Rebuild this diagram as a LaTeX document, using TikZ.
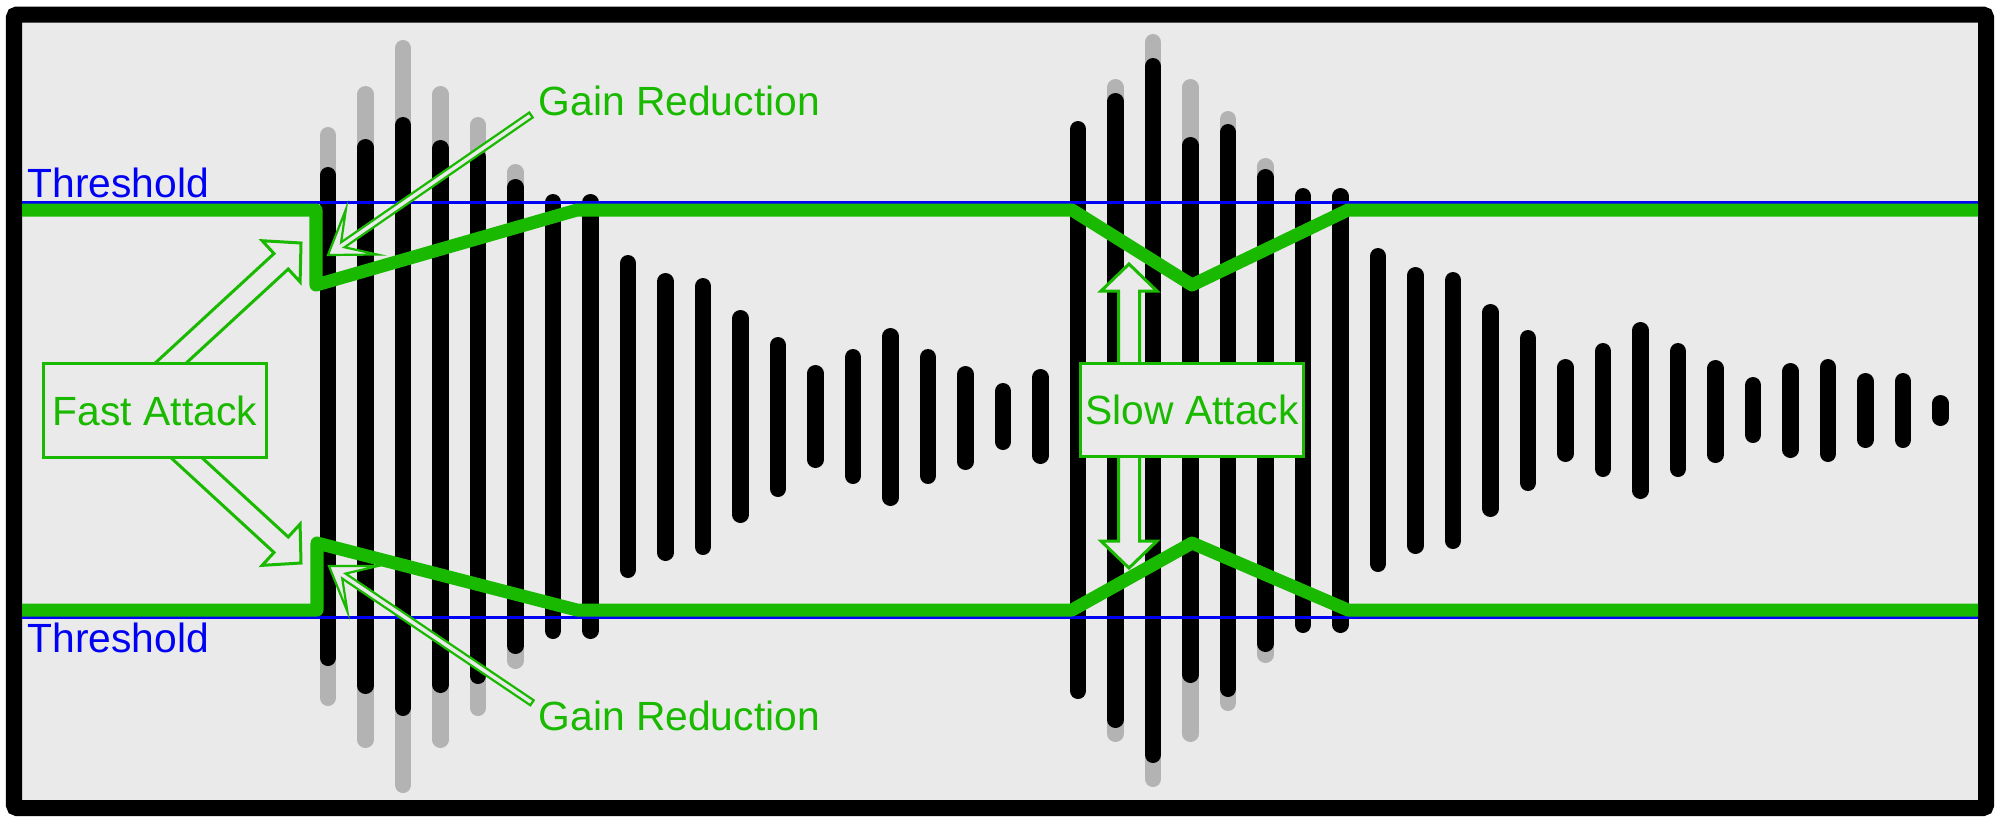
\documentclass[tikz,border=0pt]{standalone}
\usepackage{fontspec}
\setmainfont{Liberation Sans}
\usepackage{xcolor}
\definecolor{cmpgreen}{HTML}{19B900}
\definecolor{cmpblue}{HTML}{0000F5}
\definecolor{cmpbg}{HTML}{EAEAEA}
\definecolor{cmpghost}{HTML}{B3B3B3}
\usepackage{tikz}
\usetikzlibrary{calc,positioning}

%% hollow block arrow, tail #1 to tip #2
\newcommand{\blockarrow}[2]{%
  \draw[attack] ($(#1)!0.105cm!90:(#2)$)
    -- ($(#2)!0.27cm!(#1)!0.105cm!-90:(#1)$)
    -- ($(#2)!0.27cm!(#1)!0.28cm!-90:(#1)$)
    -- (#2)
    -- ($(#2)!0.27cm!(#1)!0.28cm!90:(#1)$)
    -- ($(#2)!0.27cm!(#1)!0.105cm!90:(#1)$)
    -- ($(#1)!0.105cm!-90:(#2)$) -- cycle;}
%% thin barbed arrow, tail #1 to tip #2
\newcommand{\barbarrow}[2]{%
  \draw[reduce] (#2)
    -- ($(#2)!0.49cm!34:(#1)$)
    -- ($(#2)!0.18cm!(#1)!0.03cm!90:(#1)$)
    -- ($(#1)!0.03cm!-90:(#2)$)
    -- ($(#1)!0.03cm!90:(#2)$)
    -- ($(#2)!0.18cm!(#1)!0.03cm!-90:(#1)$)
    -- ($(#2)!0.49cm!-34:(#1)$) -- cycle;}

\begin{document}
\begin{tikzpicture}[x=0.01cm, y=-0.01cm,
  every node/.style={font=\fontsize{11.6}{14}\selectfont, inner sep=0pt},
  bar/.style={line width=0.165cm, line cap=round},
  thresh/.style={draw=cmpblue, line width=0.03cm},
  gain/.style={draw=cmpgreen, line width=0.13cm, line join=round},
  callbox/.style={draw=cmpgreen, fill=cmpbg, line width=0.03cm,
                  text=cmpgreen, minimum width=2.22cm, minimum height=0.93cm},
  attack/.style={draw=cmpgreen, fill=cmpbg, line width=0.03cm},
  reduce/.style={draw=cmpgreen, fill=cmpbg, line width=0.022cm},
  lbl/.style={anchor=base west}
]

%% Page and frame
\useasboundingbox (0,0) rectangle (1999,823);
\fill[white] (0,0) rectangle (1999,823);
\draw[fill=cmpbg, line width=0.16cm, rounded corners=0.03cm]
  (14,14.5) rectangle (1986,808);

%% Uncompressed peaks
\foreach \i/\t/\b in {0/127/706, 1/86/748, 2/40/793, 3/86/748, 4/117/716,
                     5/164/669, 21/79/742, 22/34/787, 23/79/742, 24/111/711,
                     25/158/663}
  \draw[bar, cmpghost] ({328+37.5*\i},{\t+8.25}) -- ({328+37.5*\i},{\b-8.25});

%% Compressed signal
\foreach \i/\t/\b in {0/167/666, 1/139/694, 2/117/716, 3/140/693, 4/149/684,
                     5/179/654, 6/194/639, 7/194/639, 8/255/578, 9/273/561,
                     10/278/555, 11/310/523, 12/337/497, 13/365/468,
                     14/349/484, 15/328/506, 16/349/484, 17/366/470,
                     18/383/450, 19/369/464, 20/121/699, 21/93/728,
                     22/58/763, 23/137/683, 24/124/697, 25/169/652,
                     26/188/633, 27/188/633, 28/248/572, 29/267/554,
                     30/272/549, 31/304/517, 32/330/491, 33/359/462,
                     34/343/477, 35/322/499, 36/343/477, 37/360/463,
                     38/377/443, 39/363/458, 40/359/462, 41/373/448,
                     42/373/448, 43/395/426}
  \draw[bar, black] ({328+37.5*\i},{\t+8.25}) -- ({328+37.5*\i},{\b-8.25});

%% Thresholds
\draw[thresh] (22,202) -- (1978,202);
\draw[thresh] (22,617.5) -- (1978,617.5);
\node[lbl, text=cmpblue] (thrtop) at (27,197) {Threshold};
\node[lbl, text=cmpblue] (thrbot) at (27,652) {Threshold};

%% Gain curves
\draw[gain] (22,210) -- (316,210) -- (316,285) -- (577,210) -- (1072,210)
  -- (1192,285) -- (1348,210) -- (1978,210);
\draw[gain] (22,610) -- (317,610) -- (317,543) -- (577,610) -- (1072,610)
  -- (1192,543) -- (1348,610) -- (1978,610);

%% Gain reduction callouts
\node[lbl, text=cmpgreen] (redtop) at (538,115) {Gain Reduction};
\node[lbl, text=cmpgreen] (redbot) at (538,730) {Gain Reduction};
\coordinate (redtail1) at ($(redtop.base west)+(-7,0)$);
\coordinate (redtail2) at ($(redbot.north west)+(-6,3)$);
\coordinate (redtip1) at (328,255);
\coordinate (redtip2) at (329,566);
\barbarrow{redtail1}{redtip1}
\barbarrow{redtail2}{redtip2}

%% Attack callouts
\coordinate (fasttail1) at (161,372);
\coordinate (fasttip1)  at (301,243);
\coordinate (fasttail2) at (177,449);
\coordinate (fasttip2)  at (301,563);
\coordinate (slowtail1) at (1129,372);
\coordinate (slowtip1)  at (1129,264);
\coordinate (slowtail2) at (1129,449);
\coordinate (slowtip2)  at (1129,568);
\blockarrow{fasttail1}{fasttip1}
\blockarrow{fasttail2}{fasttip2}
\blockarrow{slowtail1}{slowtip1}
\blockarrow{slowtail2}{slowtip2}

\node[callbox] (fast) at (155,410.5) {Fast Attack};
\node[callbox] (slow) at (1192,410)  {Slow Attack};

\end{tikzpicture}
\end{document}
